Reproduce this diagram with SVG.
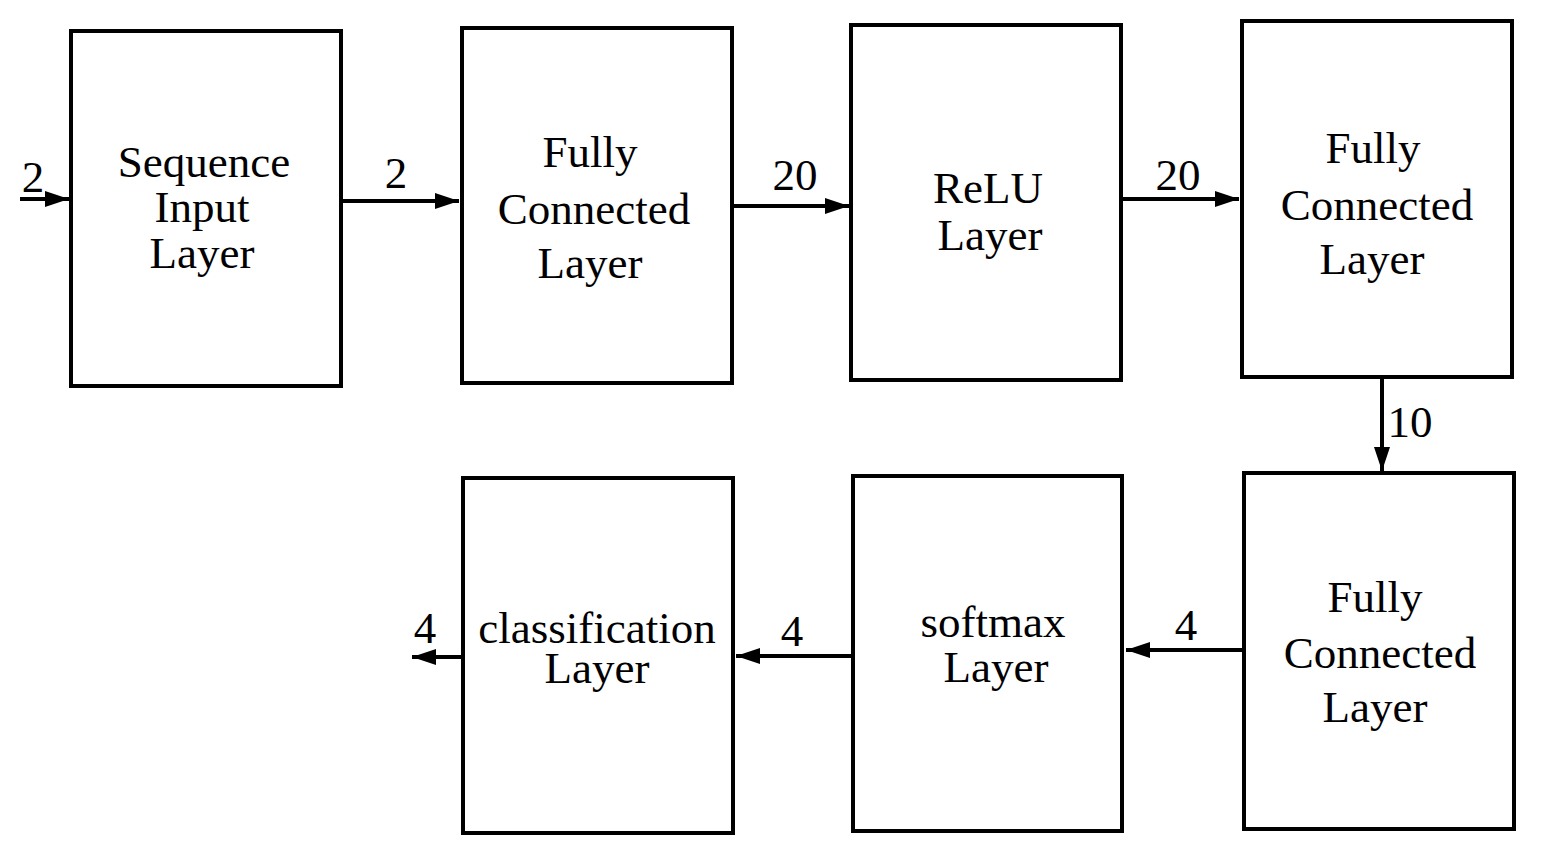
<svg xmlns="http://www.w3.org/2000/svg" width="1554" height="862" viewBox="0 0 1554 862">
<style>
.box{fill:#fff;stroke:#000;stroke-width:4}
.t{font-family:"Liberation Serif","DejaVu Serif",serif;font-size:45px;text-anchor:middle;fill:#000}
.c{stroke:#000;stroke-width:4;fill:none}
</style>
<defs>
<marker id="ah" markerWidth="6" markerHeight="4" refX="6" refY="2" orient="auto" markerUnits="strokeWidth">
<path d="M0,0 L6,2 L0,4 Z" fill="#000"/>
</marker>
</defs>
<rect width="1554" height="862" fill="#fff"/>
<g id="n1"><rect class="box" x="71" y="31" width="270" height="355"/>
<text class="t" x="204" y="177">Sequence</text><text class="t" x="202" y="222">Input</text><text class="t" x="202" y="268">Layer</text></g>
<g id="n2"><rect class="box" x="462" y="28" width="270" height="355"/>
<text class="t" x="590" y="167">Fully</text><text class="t" x="594" y="224">Connected</text><text class="t" x="590" y="278">Layer</text></g>
<g id="n3"><rect class="box" x="851" y="25" width="270" height="355"/>
<text class="t" x="988" y="203">ReLU</text><text class="t" x="990" y="250">Layer</text></g>
<g id="n4"><rect class="box" x="1242" y="21" width="270" height="356"/>
<text class="t" x="1373" y="163">Fully</text><text class="t" x="1377" y="220">Connected</text><text class="t" x="1372" y="274">Layer</text></g>
<g id="n5"><rect class="box" x="1244" y="473" width="270" height="356"/>
<text class="t" x="1375" y="612">Fully</text><text class="t" x="1380" y="668">Connected</text><text class="t" x="1375" y="722">Layer</text></g>
<g id="n6"><rect class="box" x="853" y="476" width="269" height="355"/>
<text class="t" x="993" y="637">softmax</text><text class="t" x="996" y="682">Layer</text></g>
<g id="n7"><rect class="box" x="463" y="478" width="270" height="355"/>
<text class="t" x="597" y="643">classification</text><text class="t" x="597" y="683">Layer</text></g>
<g id="connectors">
<line class="c" x1="20" y1="199" x2="69" y2="199" marker-end="url(#ah)"/>
<line class="c" x1="341" y1="201" x2="459" y2="201" marker-end="url(#ah)"/>
<line class="c" x1="732" y1="206" x2="849" y2="206" marker-end="url(#ah)"/>
<line class="c" x1="1121" y1="199" x2="1239" y2="199" marker-end="url(#ah)"/>
<line class="c" x1="1382" y1="377" x2="1382" y2="471" marker-end="url(#ah)"/>
<line class="c" x1="1244" y1="650" x2="1126" y2="650" marker-end="url(#ah)"/>
<line class="c" x1="853" y1="656" x2="736" y2="656" marker-end="url(#ah)"/>
<line class="c" x1="463" y1="657" x2="412" y2="657" marker-end="url(#ah)"/>
<text class="t" x="33" y="192">2</text>
<text class="t" x="396" y="188">2</text>
<text class="t" x="795" y="190">20</text>
<text class="t" x="1178" y="190">20</text>
<text class="t" x="1410" y="437">10</text>
<text class="t" x="1186" y="640">4</text>
<text class="t" x="792" y="646">4</text>
<text class="t" x="425" y="643">4</text>
</g>
</svg>
